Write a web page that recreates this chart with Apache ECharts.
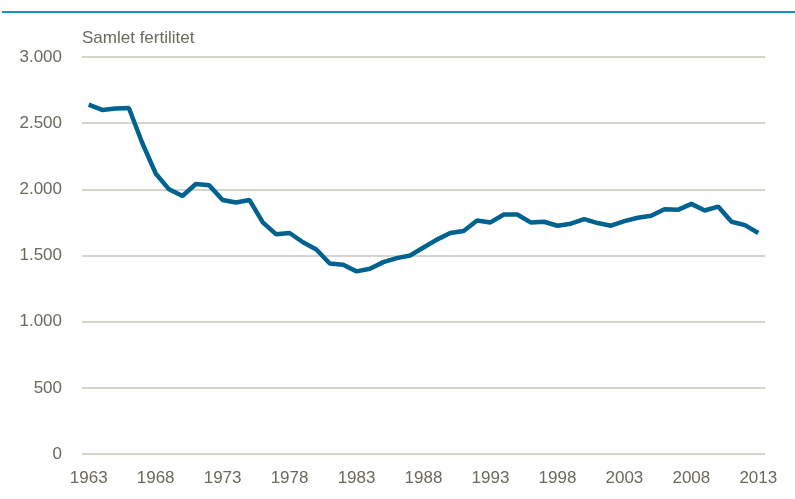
<!DOCTYPE html>
<html>
<head>
<meta charset="utf-8">
<script src="https://cdn.jsdelivr.net/npm/echarts@6/dist/echarts.min.js"></script>
<style>
  html, body { margin: 0; padding: 0; background: #fff; }
  #chart { width: 795px; height: 499px; }
</style>
</head>
<body>
<div id="chart"></div>
<script>
// samlet fertilitet pr. 1000 kvinder
var years = [];
for (var y = 1963; y <= 2013; y++) years.push(String(y));
var fertility = [
  2640, 2600, 2610, 2615, 2350, 2120, 2000, 1950, 2040, 2030,
  1920, 1900, 1920, 1750, 1660, 1670, 1600, 1545, 1440, 1430,
  1380, 1400, 1450, 1480, 1500, 1560, 1620, 1670, 1685, 1765,
  1750, 1810, 1810, 1750, 1755, 1725, 1740, 1775, 1745, 1725,
  1760, 1785, 1800, 1850, 1845, 1890, 1840, 1870, 1755, 1730,
  1670
];

var font = '"Liberation Sans Narrow", "Arial Narrow", "Liberation Sans", sans-serif';
var txt = '#6b695c';

var chart = echarts.init(document.getElementById('chart'));
chart.setOption({
  animation: false,
  graphic: [
    { type: 'rect', left: 2, top: 11, shape: { width: 793, height: 2 }, style: { fill: '#1690cf' } },
    { type: 'text', left: 82, top: 30, style: { text: 'Samlet fertilitet', fill: txt, font: '17px ' + font } }
  ],
  grid: { left: 82, right: 30, top: 57, bottom: 45 },
  xAxis: {
    type: 'category',
    data: years,
    boundaryGap: true,
    axisLine: { show: false },
    axisTick: { show: false },
    axisLabel: { interval: 4, color: txt, fontSize: 17, fontFamily: font, margin: 16 }
  },
  yAxis: {
    type: 'value',
    min: 0, max: 3000, interval: 500,
    axisLine: { show: false },
    axisTick: { show: false },
    axisLabel: {
      color: txt, fontSize: 17, fontFamily: font, margin: 20,
      formatter: function (v) { return v === 0 ? '0' : String(v).replace(/\B(?=(\d{3})+(?!\d))/g, '.'); }
    },
    splitLine: { lineStyle: { color: '#c9c7bd', width: 1.5 } }
  },
  series: [{
    type: 'line',
    data: fertility,
    symbol: 'none',
    lineStyle: { color: '#00628f', width: 4.5 },
    itemStyle: { color: '#00628f' }
  }]
});
</script>
</body>
</html>
